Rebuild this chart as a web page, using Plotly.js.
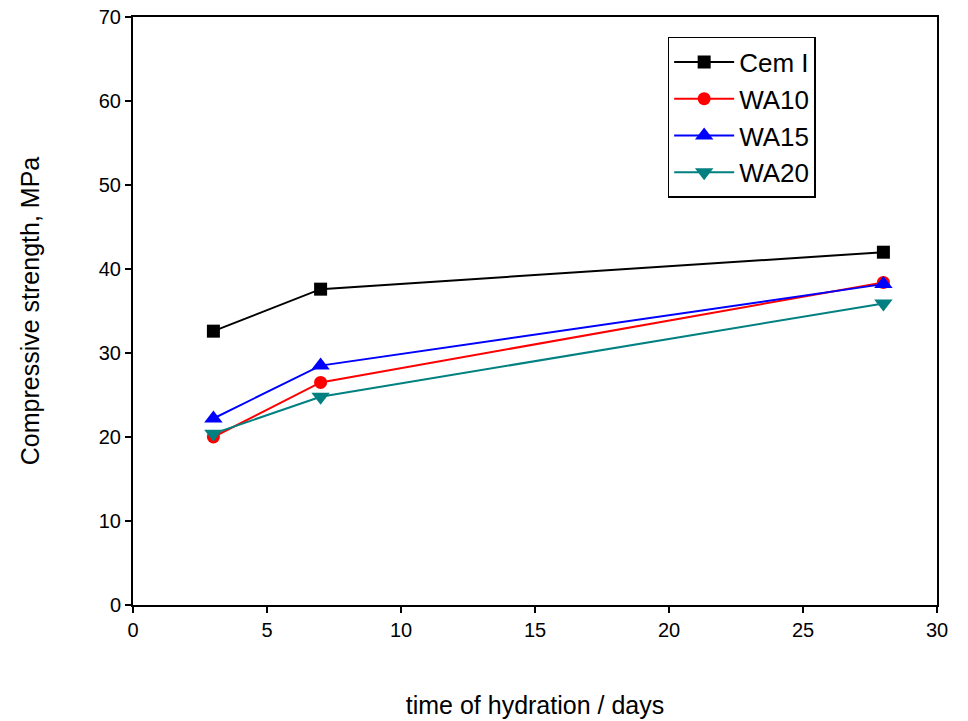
<!DOCTYPE html>
<html><head><meta charset="utf-8">
<script src="https://cdn.plot.ly/plotly-3.0.1.min.js"></script>
<style>html,body{margin:0;padding:0;background:#fff}#chart{width:968px;height:721px}</style>
</head><body><div id="chart"></div>
<script>
const days = [3, 7, 28];
const cemI = [32.6, 37.6, 42.0];
const wa10 = [20.0, 26.5, 38.4];
const wa15 = [22.2, 28.5, 38.2];
const wa20 = [20.4, 24.8, 35.9];
const names = ["Cem I", "WA10", "WA15", "WA20"];

const series = [cemI, wa10, wa15, wa20];
const colors = ["#000000", "#ff0000", "#0000ff", "#008080"];
const symbols = ["square", "circle", "triangle-up", "triangle-down"];
const sizes = [13, 13, 16, 16];
const traces = series.map((s, i) => ({
  x: days, y: s, name: names[i], type: "scatter", mode: "lines+markers",
  line: {color: colors[i], width: 2},
  marker: {color: colors[i], symbol: symbols[i], size: sizes[i]}
}));

const layout = {
  width: 968, height: 721,
  margin: {l: 133, r: 31, t: 17, b: 116},
  paper_bgcolor: "#fff", plot_bgcolor: "#fff",
  font: {family: "Liberation Sans, Arial, sans-serif", color: "#000"},
  xaxis: {
    range: [0, 30], dtick: 5, tick0: 0, showgrid: false, zeroline: false,
    ticks: "outside", ticklen: 6, tickwidth: 2, tickcolor: "#000",
    showline: true, linewidth: 2, linecolor: "#000", mirror: true,
    tickfont: {size: 20, family: "Liberation Sans, Arial"},
    title: {text: "time of hydration / days", font: {size: 25}, standoff: 56}
  },
  yaxis: {
    range: [0, 70], dtick: 10, tick0: 0, showgrid: false, zeroline: false,
    ticks: "outside", ticklen: 6, tickwidth: 2, tickcolor: "#000",
    showline: true, linewidth: 2, linecolor: "#000", mirror: true,
    tickfont: {size: 20, family: "Liberation Sans, Arial"},
    title: {text: "Compressive strength, MPa", font: {size: 25}, standoff: 52}
  },
  legend: {
    x: 0.665, y: 0.966, xanchor: "left", yanchor: "top",
    bordercolor: "#000", borderwidth: 1.5, bgcolor: "#fff",
    font: {size: 26}, tracegroupgap: 0, itemwidth: 60
  },
  showlegend: true
};
Plotly.newPlot("chart", traces, layout, {displayModeBar: false, staticPlot: true});
</script></body></html>
